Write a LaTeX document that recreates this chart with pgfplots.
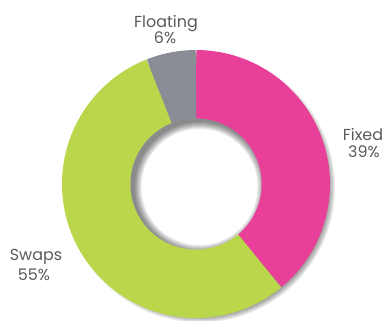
\documentclass[border=0pt]{standalone}
\usepackage{pgfplots}
\pgfplotsset{compat=1.18}
\usepackage{pgfplotstable}
\usepackage{fontspec}
\setmainfont{Poppins}
\definecolor{cFixed}{RGB}{232,64,152}
\definecolor{cSwaps}{RGB}{186,214,74}
\definecolor{cFloat}{RGB}{138,141,150}
\definecolor{cText}{RGB}{90,90,90}
\pgfplotstableread{
label value
Fixed 39
Swaps 55
Floating 6
}\shares
\begin{document}%
\begin{tikzpicture}%
\pgfplotstablegetelem{0}{value}\of\shares \let\vFixed\pgfplotsretval%
\pgfplotstablegetelem{1}{value}\of\shares \let\vSwaps\pgfplotsretval%
\pgfplotstablegetelem{2}{value}\of\shares \let\vFloat\pgfplotsretval%
\pgfmathsetmacro{\aA}{90}%
\pgfmathsetmacro{\aB}{90-3.6*\vFixed}%
\pgfmathsetmacro{\aC}{\aB-3.6*\vSwaps}%
\pgfmathsetmacro{\aD}{\aC-3.6*\vFloat}%
\begin{axis}[name=ax,x=1bp,y=1bp,xmin=0,xmax=388,ymin=0,ymax=321,hide axis,clip=false]
% outer drop shadow
\pgfplotsinvokeforeach{0,...,7}{
  \fill[black,opacity=0.07] (axis cs:200,133.5) circle[radius={128bp+#1bp}];
}
% donut ring
\addplot[draw=cFixed,line width=69bp,domain=\aB:\aA,samples=120,variable=\t,no markers] ({196+99.5*cos(\t)},{137+99.5*sin(\t)});
\addplot[draw=cSwaps,line width=69bp,domain=\aC:\aB,samples=160,variable=\t,no markers] ({196+99.5*cos(\t)},{137+99.5*sin(\t)});
\addplot[draw=cFloat,line width=69bp,domain=\aD:\aC,samples=30,variable=\t,no markers] ({196+99.5*cos(\t)},{137+99.5*sin(\t)});
% hole with inner shadow
\fill[white] (axis cs:196,137) circle[radius=65.5bp];
\begin{scope}
\clip (axis cs:196,137) circle[radius=65.5bp];
\pgfplotsinvokeforeach{0,...,7}{
  \draw[black,opacity=0.07,line width={42bp-#1bp}] (axis cs:199.5,134) circle[radius={79bp+#1bp/2}];
}
\end{scope}
% labels
\tikzset{lab/.style={anchor=base,text=cText,font=\fontsize{16}{18}\selectfont,inner sep=0pt}}
\node[lab] at (axis cs:166,294) {Floating};
\node[lab] at (axis cs:165,278) {6\%};
\node[lab] at (axis cs:363,181) {Fixed};
\node[lab] at (axis cs:364,164) {39\%};
\node[lab] at (axis cs:36,61) {Swaps};
\node[lab] at (axis cs:34,41) {55\%};
\end{axis}
\pgfresetboundingbox
\path[use as bounding box] (ax.south west) rectangle (ax.north east);
\end{tikzpicture}%
\end{document}
